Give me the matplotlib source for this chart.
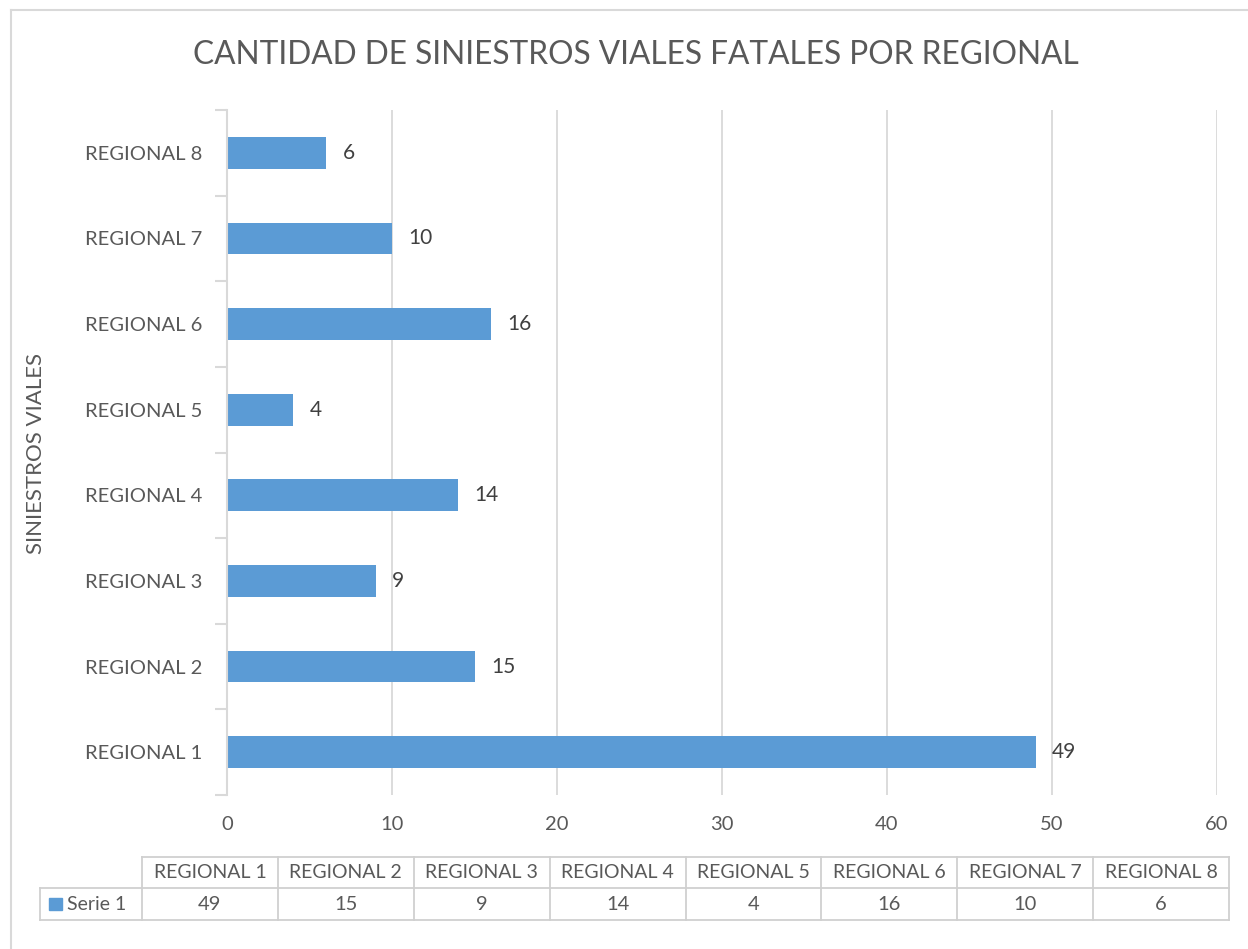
import matplotlib.pyplot as plt
import numpy as np
from matplotlib.lines import Line2D
from matplotlib.patches import Rectangle

categorias = ['REGIONAL 1', 'REGIONAL 2', 'REGIONAL 3', 'REGIONAL 4',
              'REGIONAL 5', 'REGIONAL 6', 'REGIONAL 7', 'REGIONAL 8']
valores = [49, 15, 9, 14, 4, 16, 10, 6]
serie = 'Serie 1'
titulo = 'CANTIDAD DE SINIESTROS VIALES FATALES POR REGIONAL'
eje_y = 'SINIESTROS VIALES'
x_ticks = [0, 10, 20, 30, 40, 50, 60]

azul = '#5B9BD5'
gris_txt = '#595959'
gris_linea = '#D9D9D9'

plt.rcParams['font.family'] = ['Lato', 'DejaVu Sans']

W, H = 1248, 949
fig = plt.figure(figsize=(W / 100, H / 100), dpi=100)


def fx(px):
    return px / W


def fy(py):
    return 1 - py / H


# chart border (top and left visible in crop)
fig.add_artist(Line2D([fx(11), fx(1248)], [fy(10), fy(10)], color=gris_linea, lw=1.5))
fig.add_artist(Line2D([fx(11), fx(11)], [fy(10), fy(949)], color=gris_linea, lw=1.5))

# main bar chart
ax = fig.add_axes([fx(227), fy(795), fx(1217) - fx(227), fy(110) - fy(795)])
y = np.arange(len(categorias))
ax.barh(y, valores, height=0.37, color=azul, zorder=3)
for yi, v in zip(y, valores):
    ax.text(v + 1.0, yi, str(v), va='center', ha='left', fontsize=15, color='#404040')

ax.set_xlim(0, 60)
ax.set_ylim(-0.5, len(categorias) - 0.5)
ax.set_xticks(x_ticks)
ax.set_yticks(y)
ax.set_yticklabels(categorias)
ax.set_yticks(np.arange(-0.5, len(categorias)), minor=True)
ax.tick_params(axis='y', which='major', length=0, pad=18, labelsize=14.5, labelcolor=gris_txt)
ax.tick_params(axis='y', which='minor', length=9, color=gris_linea, width=1.5)
ax.tick_params(axis='x', length=0, pad=15, labelsize=14.5, labelcolor=gris_txt)
ax.grid(axis='x', color=gris_linea, lw=1.3, zorder=0)
for s in ['top', 'right', 'bottom']:
    ax.spines[s].set_visible(False)
ax.spines['left'].set_color(gris_linea)
ax.spines['left'].set_linewidth(1.5)
ax.spines['left'].set_zorder(4)

fig.text(fx(636), fy(55), titulo, ha='center', va='center', fontsize=22.8, color=gris_txt)
fig.text(fx(36), fy(454), eje_y, ha='center', va='center', rotation=90, fontsize=16, color=gris_txt)

# data table
x0, x1 = 142, 1229
lab0 = 40
r0, r1, r2 = 857, 888, 920
cw = (x1 - x0) / len(categorias)
lc = '#D0D0D0'
# horizontal lines
fig.add_artist(Line2D([fx(x0), fx(x1)], [fy(r0), fy(r0)], color=lc, lw=1.3))
fig.add_artist(Line2D([fx(lab0), fx(x1)], [fy(r1), fy(r1)], color=lc, lw=1.3))
fig.add_artist(Line2D([fx(lab0), fx(x1)], [fy(r2), fy(r2)], color=lc, lw=1.3))
fig.add_artist(Line2D([fx(lab0), fx(lab0)], [fy(r1), fy(r2)], color=lc, lw=1.3))
for i in range(len(categorias) + 1):
    xp = x0 + i * cw
    fig.add_artist(Line2D([fx(xp), fx(xp)], [fy(r0), fy(r2)], color=lc, lw=1.3))
for i, (c, v) in enumerate(zip(categorias, valores)):
    xc = x0 + (i + 0.5) * cw
    fig.text(fx(xc), fy((r0 + r1) / 2), c, ha='center', va='center', fontsize=14, color=gris_txt)
    fig.text(fx(xc), fy((r1 + r2) / 2), str(v), ha='center', va='center', fontsize=14.5, color=gris_txt)
fig.add_artist(Rectangle((fx(49), fy(910)), fx(13), fy(898) - fy(910), color=azul, transform=fig.transFigure))
fig.text(fx(67), fy((r1 + r2) / 2), serie, ha='left', va='center', fontsize=14, color=gris_txt)

fig.savefig('out.png', dpi=100)
